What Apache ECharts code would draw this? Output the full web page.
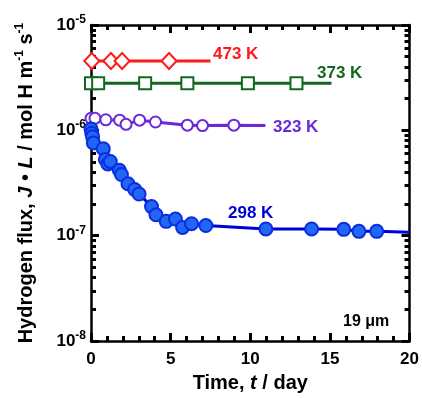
<!DOCTYPE html>
<html>
<head>
<meta charset="utf-8">
<script src="https://cdn.jsdelivr.net/npm/echarts@6/dist/echarts.min.js"></script>
<style>
  html, body { margin: 0; padding: 0; background: #fff; }
  #chart { width: 422px; height: 398px; }
</style>
</head>
<body>
<div id="chart"></div>
<script>
// time in days, flux in mol H m^-1 s^-1
const t473 = [0.05, 1.25, 1.95, 4.9]
const j473 = [4.55e-6, 4.55e-6, 4.55e-6, 4.55e-6]
const end473 = [7.5, 4.55e-6]

const t373 = [0, 0.45, 3.4, 6.05, 9.85, 12.9]
const j373 = [2.8e-6, 2.8e-6, 2.8e-6, 2.8e-6, 2.8e-6, 2.8e-6]
const end373 = [15.1, 2.8e-6]

const t323 = [0, 0.25, 0.93, 1.8, 2.2, 3.05, 4.05, 6.05, 7.0, 8.97]
const j323 = [1.3e-6, 1.3e-6, 1.26e-6, 1.25e-6, 1.14e-6, 1.25e-6, 1.2e-6, 1.12e-6, 1.11e-6, 1.12e-6]
const end323 = [10.95, 1.11e-6]

const t298 = [0, 0.05, 0.1, 0.15, 0.77, 0.9, 1.06, 1.21, 1.78, 1.91, 2.32, 2.74, 3.02, 3.8, 4.08,
  4.72, 5.3, 5.75, 6.31, 7.21, 10.98, 13.85, 15.87, 16.82, 17.94]
const j298 = [1.03e-6, 9.4e-7, 8.7e-7, 7.6e-7, 6.7e-7, 5.3e-7, 4.8e-7, 5.07e-7, 4.18e-7, 3.81e-7, 3.11e-7,
  2.75e-7, 2.49e-7, 1.89e-7, 1.58e-7, 1.37e-7, 1.44e-7, 1.2e-7, 1.3e-7, 1.25e-7, 1.16e-7, 1.16e-7,
  1.15e-7, 1.1e-7, 1.1e-7]
const end298 = [20, 1.08e-7]

const xTicks = [0, 5, 10, 15, 20]
const yTickExp = [-8, -7, -6, -5]

const chart = echarts.init(document.getElementById('chart'))

const font = '"Liberation Sans", Arial, sans-serif'

function makeData(ts, js, end) {
  const data = ts.map((t, i) => [t, js[i]])
  data.push({ value: end, symbol: 'none' })
  return data
}

function series(name, ts, js, end, color, symbol, size, fill, border) {
  return {
    name: name,
    type: 'line',
    data: makeData(ts, js, end),
    symbol: symbol,
    symbolSize: size,
    showAllSymbol: true,
    clip: false,
    lineStyle: { color: color, width: 3 },
    itemStyle: { color: fill, borderColor: border, borderWidth: 2 },
    z: 3
  }
}

function axisLine() {
  return { show: true, onZero: false, lineStyle: { color: '#000', width: 2.5 } }
}
function tick() {
  return { show: true, inside: true, length: 8, lineStyle: { color: '#000', width: 3 } }
}
function minor(n) {
  return { show: true, splitNumber: n, length: 5, lineStyle: { color: '#000', width: 3 } }
}

const labelFont = 'bold 17px ' + font

const option = {
  animation: false,
  grid: { left: 91, right: 10, top: 25, bottom: 51, containLabel: false },
  xAxis: [{
    type: 'value',
    min: 0, max: 20, interval: 5,
    axisLine: axisLine(),
    axisTick: tick(),
    minorTick: minor(5),
    splitLine: { show: false },
    axisLabel: {
      margin: 10,
      fontFamily: font, fontWeight: 'bold', fontSize: 17, color: '#000',
      formatter: v => xTicks.includes(v) ? String(v) : ''
    },
    name: '{a|Time, }{i|t}{a| / day}',
    nameLocation: 'middle',
    nameGap: 27,
    nameTextStyle: {
      rich: {
        a: { fontFamily: font, fontWeight: 'bold', fontSize: 20, color: '#000' },
        i: { fontFamily: font, fontWeight: 'bold', fontStyle: 'italic', fontSize: 20, color: '#000' }
      }
    }
  }, {
    type: 'value',
    position: 'top',
    min: 0, max: 20, interval: 5,
    axisLine: axisLine(),
    axisTick: tick(),
    minorTick: minor(5),
    splitLine: { show: false },
    axisLabel: { show: false }
  }],
  yAxis: [{
    type: 'log',
    min: 1e-8, max: 1e-5,
    logBase: 10,
    axisLine: axisLine(),
    axisTick: tick(),
    minorTick: minor(9),
    splitLine: { show: false },
    axisLabel: {
      margin: 5,
      formatter: v => {
        const e = Math.round(Math.log10(v))
        return yTickExp.includes(e) ? '{b|10}{s|' + e + '}' : ''
      },
      rich: {
        b: { fontFamily: font, fontWeight: 'bold', fontSize: 17, color: '#000' },
        s: { fontFamily: font, fontWeight: 'bold', fontSize: 12, color: '#000', padding: [0, 0, 11, 0] }
      }
    },
    name: '{a|Hydrogen flux, }{i|J}{a| • }{i|L}{a| / mol H m}{s|-1}{a| s}{s|-1}',
    nameLocation: 'middle',
    nameRotate: 90,
    nameGap: 53,
    nameTextStyle: {
      rich: {
        a: { fontFamily: font, fontWeight: 'bold', fontSize: 20, color: '#000' },
        i: { fontFamily: font, fontWeight: 'bold', fontStyle: 'italic', fontSize: 20, color: '#000' },
        s: { fontFamily: font, fontWeight: 'bold', fontSize: 12, color: '#000', padding: [0, 0, 12, 0] }
      }
    }
  }, {
    type: 'log',
    position: 'right',
    min: 1e-8, max: 1e-5,
    logBase: 10,
    axisLine: axisLine(),
    axisTick: tick(),
    minorTick: minor(9),
    splitLine: { show: false },
    axisLabel: { show: false }
  }],
  series: [
    series('473 K', t473, j473, end473, '#ff1a1a', 'diamond', [15, 16], '#fff', '#ff1a1a'),
    series('373 K', t373, j373, end373, '#12681e', 'rect', 12, '#fff', '#12681e'),
    series('323 K', t323, j323, end323, '#6a2ad8', 'circle', 11, '#fff', '#6a2ad8'),
    series('298 K', t298, j298, end298, '#0000d8', 'circle', 13, '#2266f5', '#0a2ee0')
  ],
  graphic: [
    { type: 'text', x: 213, y: 54, style: { text: '473 K', fill: '#ff1a1a', font: labelFont, textVerticalAlign: 'middle' } },
    { type: 'text', x: 317, y: 73, style: { text: '373 K', fill: '#12681e', font: labelFont, textVerticalAlign: 'middle' } },
    { type: 'text', x: 273, y: 127, style: { text: '323 K', fill: '#6a2ad8', font: labelFont, textVerticalAlign: 'middle' } },
    { type: 'text', x: 228, y: 213, style: { text: '298 K', fill: '#0000d8', font: labelFont, textVerticalAlign: 'middle' } },
    { type: 'text', x: 343, y: 322, style: { text: '19 μm', fill: '#000', font: 'bold 16px ' + font, textVerticalAlign: 'middle' } }
  ]
}

chart.setOption(option)
</script>
</body>
</html>
